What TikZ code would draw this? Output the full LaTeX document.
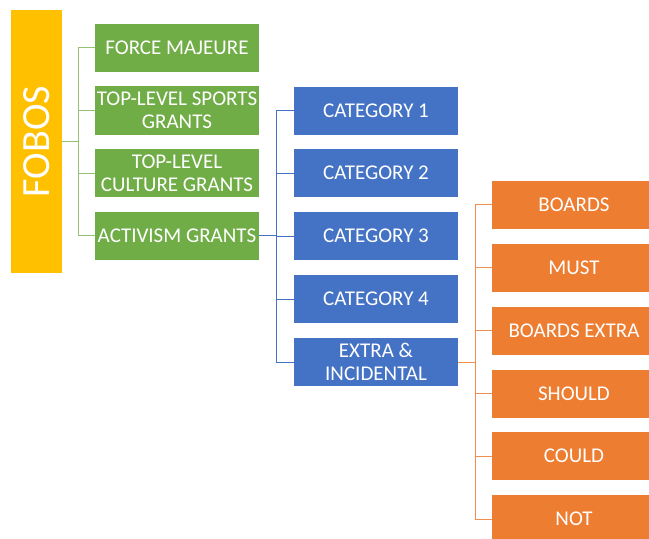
\documentclass[tikz,border=0pt]{standalone}
\usepackage{fontspec}
\setmainfont{Carlito}
\definecolor{fyellow}{HTML}{FFC000}
\definecolor{fgreen}{HTML}{70AD47}
\definecolor{fblue}{HTML}{4472C4}
\definecolor{forange}{HTML}{ED7D31}
\definecolor{ftext}{HTML}{FFFFFF}
\tikzset{
  box/.style={rectangle, inner sep=0pt, minimum width=164pt, minimum height=48pt,
    text=ftext, align=center, font=\fontsize{21}{23}\selectfont},
  gbox/.style={box, fill=fgreen},
  bbox/.style={box, fill=fblue},
  obox/.style={box, fill=forange},
  gline/.style={draw=fgreen!75, line width=0.9pt},
  bline/.style={draw=fblue, line width=0.9pt},
  oline/.style={draw=forange!85, line width=0.9pt},
}
\begin{document}
\begin{tikzpicture}[x=1pt,y=-1pt]
\useasboundingbox (0,0) rectangle (649,539);
\clip (0,0) rectangle (649,539);
\fill[white] (0,0) rectangle (649,539);
\node[rectangle, fill=fyellow, inner sep=0pt, minimum width=51pt, minimum height=263pt] (fobos) at (36.5,141.5) {};
\node[text=ftext, font=\fontsize{40}{40}\selectfont, rotate=90] (fobostext) at (fobos.center) {FOBOS};
% green
\node[gbox] (g1) at (177,47.5) {FORCE MAJEURE};
\node[gbox, minimum height=49pt] (g2) at (177,110) {TOP-LEVEL SPORTS\\GRANTS};
\node[gbox] (g3) at (177,173) {TOP-LEVEL\\CULTURE GRANTS};
\node[gbox] (g4) at (177,235.5) {ACTIVISM GRANTS};
% blue
\node[bbox] (b1) at (376,110.5) {CATEGORY 1};
\node[bbox] (b2) at (376,173) {CATEGORY 2};
\node[bbox] (b3) at (376,236) {CATEGORY 3};
\node[bbox] (b4) at (376,299) {CATEGORY 4};
\node[bbox] (b5) at (376,362) {EXTRA \&\\INCIDENTAL};
% orange
\node[obox] (o1) at (574,204.5) {BOARDS};
\node[obox] (o2) at (574,267.5) {MUST};
\node[obox] (o3) at (574,330.5) {BOARDS EXTRA};
\node[obox] (o4) at (574,393.5) {SHOULD};
\node[obox] (o5) at (574,456) {COULD};
\node[obox] (o6) at (574,519) {NOT};
% connectors
\foreach \n in {g1,g2,g3,g4}
  \draw[gline] (fobos.east) -- ++(16,0) |- (\n.west);
\foreach \n in {b1,b2,b3,b4,b5}
  \draw[bline] (g4.east) -- ++(17,0) |- (\n.west);
\foreach \n in {o1,o2,o3,o4,o5,o6}
  \draw[oline] (b5.east) -- ++(17,0) |- (\n.west);
\end{tikzpicture}
\end{document}
